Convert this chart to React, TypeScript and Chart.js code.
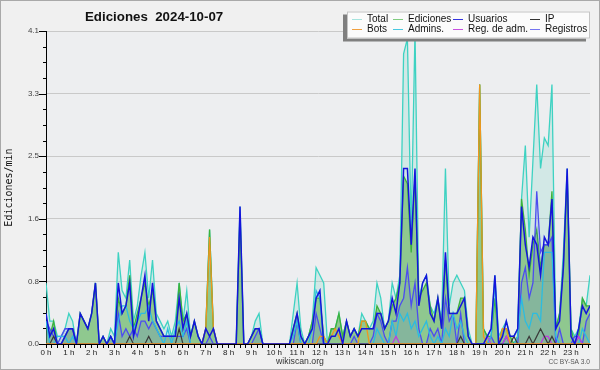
import React, { useEffect, useRef } from 'react';
import { Chart, registerables } from 'chart.js';

Chart.register(...registerables);

// ---- data (10-minute slots, 0:00 .. 23:50, edits per minute) ----
const hourLabels = ['0 h', '1 h', '2 h', '3 h', '4 h', '5 h', '6 h', '7 h', '8 h', '9 h', '10 h', '11 h',
  '12 h', '13 h', '14 h', '15 h', '16 h', '17 h', '18 h', '19 h', '20 h', '21 h', '22 h', '23 h'];
const yTickLabels = ['0.0', '0.8', '1.6', '2.5', '3.3', '4.1'];
const Y_MAX = 4.1;
const SLOTS_PER_HOUR = 6;

const total = [
  0.8, 0.3, 0.3, 0.1, 0.1, 0.2, 0.4, 0.3, 0.0, 0.4, 0.3, 0.2,
  0.4, 0.8, 0.0, 0.1, 0.0, 0.2, 0.1, 1.2, 0.7, 0.6, 1.1, 0.3,
  0.5, 0.9, 1.2, 0.6, 1.1, 0.4, 0.3, 0.2, 0.3, 0.1, 0.3, 0.8,
  0.3, 0.7, 0.1, 0.3, 0.1, 0.0, 0.2, 1.5, 0.2, 0.0, 0.0, 0.0,
  0.0, 0.0, 0.0, 1.8, 0.0, 0.0, 0.1, 0.3, 0.4, 0.0, 0.0, 0.0,
  0.0, 0.0, 0.0, 0.0, 0.0, 0.4, 0.8, 0.2, 0.0, 0.1, 0.3, 1.0,
  0.9, 0.8, 0.0, 0.2, 0.2, 0.4, 0.1, 0.3, 0.1, 0.2, 0.1, 0.4,
  0.3, 0.2, 0.3, 0.8, 0.6, 0.2, 0.3, 0.8, 0.6, 0.9, 3.8, 4.0,
  1.5, 4.1, 0.6, 0.8, 0.9, 0.5, 0.4, 0.6, 0.3, 2.3, 0.5, 0.8,
  0.9, 0.8, 0.7, 0.2, 0.0, 0.0, 3.4, 0.2, 0.1, 0.2, 0.9, 0.1,
  0.2, 0.3, 0.1, 0.1, 0.2, 1.9, 2.6, 1.4, 2.4, 3.4, 2.3, 2.7,
  2.6, 3.4, 0.2, 0.4, 1.2, 2.3, 0.2, 0.1, 0.2, 0.6, 0.5, 0.9,
];
const ediciones = [
  0.3, 0.1, 0.3, 0.0, 0.0, 0.1, 0.2, 0.2, 0.0, 0.4, 0.3, 0.2,
  0.4, 0.8, 0.0, 0.1, 0.0, 0.1, 0.0, 0.6, 0.4, 0.5, 0.9, 0.2,
  0.4, 0.6, 0.8, 0.5, 0.7, 0.3, 0.2, 0.1, 0.1, 0.1, 0.1, 0.8,
  0.3, 0.4, 0.1, 0.3, 0.1, 0.0, 0.2, 1.5, 0.2, 0.0, 0.0, 0.0,
  0.0, 0.0, 0.0, 1.7, 0.0, 0.0, 0.1, 0.2, 0.2, 0.0, 0.0, 0.0,
  0.0, 0.0, 0.0, 0.0, 0.0, 0.2, 0.4, 0.1, 0.0, 0.1, 0.3, 0.6,
  0.6, 0.1, 0.0, 0.2, 0.2, 0.4, 0.1, 0.3, 0.1, 0.2, 0.1, 0.3,
  0.3, 0.2, 0.2, 0.5, 0.4, 0.2, 0.3, 0.5, 0.6, 0.8, 2.2, 2.1,
  1.2, 2.2, 0.6, 0.7, 0.8, 0.5, 0.3, 0.6, 0.2, 1.1, 0.4, 0.4,
  0.4, 0.6, 0.6, 0.1, 0.0, 0.0, 3.4, 0.2, 0.1, 0.1, 0.6, 0.0,
  0.2, 0.2, 0.1, 0.0, 0.1, 1.9, 1.5, 0.9, 1.3, 1.5, 1.0, 1.3,
  1.3, 2.0, 0.2, 0.4, 1.0, 2.2, 0.2, 0.0, 0.1, 0.6, 0.5, 0.5,
];
const usuarios = [
  0.4, 0.1, 0.2, 0.0, 0.0, 0.1, 0.2, 0.2, 0.0, 0.4, 0.3, 0.2,
  0.4, 0.8, 0.0, 0.1, 0.0, 0.1, 0.0, 0.8, 0.4, 0.5, 0.8, 0.1,
  0.3, 0.6, 0.9, 0.3, 0.8, 0.3, 0.2, 0.1, 0.1, 0.1, 0.1, 0.6,
  0.2, 0.4, 0.1, 0.3, 0.1, 0.0, 0.2, 0.1, 0.2, 0.0, 0.0, 0.0,
  0.0, 0.0, 0.0, 1.8, 0.0, 0.0, 0.1, 0.2, 0.2, 0.0, 0.0, 0.0,
  0.0, 0.0, 0.0, 0.0, 0.0, 0.2, 0.4, 0.1, 0.0, 0.1, 0.2, 0.6,
  0.7, 0.0, 0.0, 0.1, 0.1, 0.2, 0.0, 0.3, 0.1, 0.2, 0.1, 0.2,
  0.2, 0.2, 0.2, 0.4, 0.4, 0.2, 0.3, 0.6, 0.4, 0.8, 2.3, 2.3,
  1.3, 2.3, 0.5, 0.8, 0.9, 0.4, 0.3, 0.6, 0.2, 1.2, 0.4, 0.4,
  0.4, 0.5, 0.6, 0.1, 0.0, 0.0, 0.0, 0.0, 0.1, 0.2, 0.9, 0.0,
  0.1, 0.3, 0.1, 0.1, 0.2, 1.8, 1.3, 1.0, 1.4, 1.3, 0.9, 1.4,
  1.3, 1.9, 0.2, 0.3, 1.0, 2.3, 0.1, 0.0, 0.2, 0.5, 0.4, 0.5,
];
const ip = [
  0.0, 0.0, 0.1, 0.0, 0.0, 0.0, 0.0, 0.0, 0.0, 0.0, 0.0, 0.0,
  0.0, 0.0, 0.0, 0.0, 0.0, 0.0, 0.0, 0.0, 0.0, 0.0, 0.1, 0.0,
  0.0, 0.0, 0.0, 0.1, 0.0, 0.0, 0.0, 0.0, 0.0, 0.0, 0.0, 0.2,
  0.0, 0.0, 0.0, 0.0, 0.0, 0.0, 0.0, 0.0, 0.0, 0.0, 0.0, 0.0,
  0.0, 0.0, 0.0, 0.0, 0.0, 0.0, 0.0, 0.0, 0.0, 0.0, 0.0, 0.0,
  0.0, 0.0, 0.0, 0.0, 0.0, 0.0, 0.0, 0.0, 0.0, 0.0, 0.0, 0.0,
  0.0, 0.0, 0.0, 0.0, 0.0, 0.0, 0.0, 0.0, 0.0, 0.0, 0.0, 0.0,
  0.0, 0.0, 0.0, 0.0, 0.0, 0.0, 0.0, 0.0, 0.0, 0.0, 0.0, 0.0,
  0.0, 0.0, 0.0, 0.0, 0.0, 0.0, 0.0, 0.0, 0.0, 0.0, 0.0, 0.0,
  0.0, 0.1, 0.0, 0.0, 0.0, 0.0, 0.0, 0.0, 0.0, 0.0, 0.0, 0.0,
  0.0, 0.0, 0.0, 0.1, 0.0, 0.0, 0.0, 0.1, 0.0, 0.1, 0.2, 0.1,
  0.0, 0.1, 0.0, 0.0, 0.0, 0.0, 0.0, 0.0, 0.0, 0.0, 0.0, 0.0,
];
const bots = [
  0.0, 0.0, 0.0, 0.0, 0.0, 0.0, 0.0, 0.0, 0.0, 0.0, 0.0, 0.0,
  0.0, 0.0, 0.0, 0.0, 0.0, 0.0, 0.0, 0.0, 0.0, 0.0, 0.0, 0.0,
  0.0, 0.0, 0.0, 0.0, 0.0, 0.0, 0.0, 0.0, 0.0, 0.0, 0.0, 0.0,
  0.0, 0.0, 0.0, 0.0, 0.0, 0.0, 0.2, 1.4, 0.2, 0.0, 0.0, 0.0,
  0.0, 0.0, 0.0, 0.0, 0.0, 0.0, 0.0, 0.0, 0.0, 0.0, 0.0, 0.0,
  0.0, 0.0, 0.0, 0.0, 0.0, 0.0, 0.0, 0.0, 0.0, 0.0, 0.0, 0.0,
  0.1, 0.1, 0.0, 0.1, 0.2, 0.1, 0.0, 0.0, 0.0, 0.0, 0.0, 0.3,
  0.3, 0.0, 0.0, 0.0, 0.0, 0.0, 0.0, 0.0, 0.0, 0.0, 0.0, 0.0,
  0.0, 0.0, 0.0, 0.0, 0.0, 0.0, 0.0, 0.0, 0.0, 0.0, 0.0, 0.0,
  0.0, 0.0, 0.0, 0.0, 0.0, 0.0, 3.4, 0.1, 0.0, 0.0, 0.0, 0.0,
  0.2, 0.2, 0.0, 0.0, 0.0, 0.0, 0.0, 0.0, 0.0, 0.0, 0.0, 0.0,
  0.0, 0.0, 0.0, 0.0, 0.0, 0.0, 0.0, 0.0, 0.0, 0.0, 0.0, 0.0,
];
const admins = [
  0.3, 0.0, 0.0, 0.1, 0.1, 0.1, 0.0, 0.1, 0.0, 0.0, 0.0, 0.0,
  0.0, 0.0, 0.0, 0.0, 0.0, 0.1, 0.0, 0.3, 0.5, 0.5, 0.3, 0.2,
  0.3, 0.4, 0.4, 0.5, 0.3, 0.2, 0.1, 0.0, 0.2, 0.0, 0.2, 0.3,
  0.1, 0.3, 0.0, 0.0, 0.0, 0.0, 0.0, 0.0, 0.0, 0.0, 0.0, 0.0,
  0.0, 0.0, 0.0, 0.0, 0.0, 0.0, 0.0, 0.0, 0.0, 0.0, 0.0, 0.0,
  0.0, 0.0, 0.0, 0.0, 0.0, 0.1, 0.3, 0.0, 0.0, 0.0, 0.2, 0.7,
  0.6, 0.0, 0.0, 0.0, 0.0, 0.0, 0.0, 0.0, 0.0, 0.0, 0.0, 0.0,
  0.0, 0.0, 0.0, 0.2, 0.1, 0.0, 0.0, 0.3, 0.1, 0.4, 0.3, 0.4,
  0.2, 0.3, 0.1, 0.2, 0.3, 0.1, 0.0, 0.1, 0.0, 0.2, 0.1, 0.4,
  0.2, 0.3, 0.1, 0.0, 0.0, 0.0, 0.0, 0.0, 0.0, 0.1, 0.8, 0.0,
  0.0, 0.0, 0.0, 0.0, 0.1, 0.6, 0.3, 0.2, 0.4, 0.4, 0.3, 1.2,
  1.2, 1.2, 0.1, 0.0, 0.0, 0.0, 0.0, 0.0, 0.0, 0.2, 0.1, 0.0,
];
const regAdm = [
  0.0, 0.0, 0.0, 0.0, 0.0, 0.0, 0.0, 0.0, 0.0, 0.0, 0.0, 0.0,
  0.0, 0.0, 0.0, 0.0, 0.0, 0.0, 0.0, 0.0, 0.0, 0.0, 0.0, 0.0,
  0.0, 0.0, 0.0, 0.0, 0.0, 0.0, 0.0, 0.0, 0.0, 0.0, 0.0, 0.0,
  0.0, 0.0, 0.0, 0.0, 0.0, 0.0, 0.0, 0.0, 0.0, 0.0, 0.0, 0.0,
  0.0, 0.0, 0.0, 0.0, 0.0, 0.0, 0.0, 0.0, 0.0, 0.0, 0.0, 0.0,
  0.0, 0.0, 0.0, 0.0, 0.0, 0.0, 0.0, 0.0, 0.0, 0.0, 0.0, 0.0,
  0.0, 0.0, 0.0, 0.0, 0.0, 0.0, 0.0, 0.0, 0.0, 0.0, 0.0, 0.0,
  0.0, 0.0, 0.0, 0.0, 0.0, 0.0, 0.0, 0.0, 0.1, 0.0, 0.0, 0.0,
  0.0, 0.0, 0.0, 0.0, 0.0, 0.0, 0.0, 0.0, 0.0, 0.0, 0.0, 0.0,
  0.0, 0.0, 0.0, 0.0, 0.0, 0.0, 0.0, 0.0, 0.1, 0.0, 0.0, 0.0,
  0.0, 0.1, 0.0, 0.0, 0.0, 0.0, 0.0, 0.0, 0.0, 0.0, 0.0, 0.1,
  0.1, 0.0, 0.0, 0.0, 0.0, 0.0, 0.0, 0.0, 0.1, 0.0, 0.0, 0.0,
];
const registros = [
  0.3, 0.2, 0.1, 0.0, 0.1, 0.2, 0.2, 0.2, 0.0, 0.0, 0.0, 0.0,
  0.0, 0.0, 0.0, 0.0, 0.0, 0.1, 0.0, 0.4, 0.1, 0.2, 0.1, 0.2,
  0.1, 0.3, 0.3, 0.2, 0.3, 0.2, 0.1, 0.1, 0.1, 0.1, 0.1, 0.1,
  0.1, 0.2, 0.0, 0.0, 0.0, 0.0, 0.0, 0.1, 0.0, 0.0, 0.0, 0.0,
  0.0, 0.0, 0.0, 0.0, 0.0, 0.0, 0.0, 0.1, 0.2, 0.0, 0.0, 0.0,
  0.0, 0.0, 0.0, 0.0, 0.0, 0.0, 0.3, 0.0, 0.0, 0.0, 0.0, 0.4,
  0.2, 0.0, 0.0, 0.0, 0.0, 0.0, 0.0, 0.0, 0.0, 0.1, 0.0, 0.0,
  0.0, 0.0, 0.1, 0.4, 0.3, 0.1, 0.0, 0.3, 0.3, 0.5, 0.6, 1.0,
  0.5, 0.8, 0.2, 0.0, 0.0, 0.2, 0.1, 0.2, 0.0, 0.6, 0.3, 0.4,
  0.0, 0.4, 0.0, 0.0, 0.0, 0.0, 0.0, 0.0, 0.0, 0.1, 0.0, 0.0,
  0.0, 0.1, 0.0, 0.0, 0.0, 0.8, 1.0, 0.6, 0.8, 2.0, 1.2, 1.3,
  1.3, 1.4, 0.0, 0.2, 0.0, 0.0, 0.0, 0.1, 0.1, 0.0, 0.3, 0.4,
];

const TITLE = 'Ediciones  2024-10-07';
const Y_TITLE = 'Ediciones/min';

type Series = { label: string; data: number[]; line: string; swatch: string; fill?: string; width: number; order: number };
const series: Series[] = [
  { label: 'Total', data: total, line: '#3ed2c2', swatch: '#a6e4de', fill: 'rgba(70,205,180,0.16)', width: 1.3, order: 9 },
  { label: 'Ediciones', data: ediciones, line: '#3cb23c', swatch: '#80cc80', fill: 'rgba(75,167,55,0.5)', width: 1.3, order: 8 },
  { label: 'Usuarios', data: usuarios, line: '#1414dc', swatch: '#3434e0', width: 1.5, order: 1 },
  { label: 'IP', data: ip, line: '#3a3a3a', swatch: '#333333', width: 1.2, order: 4 },
  { label: 'Bots', data: bots, line: '#f0961e', swatch: '#f0a040', width: 1.3, order: 3 },
  { label: 'Admins.', data: admins, line: '#2cbce0', swatch: '#48c8e0', width: 1.3, order: 6 },
  { label: 'Reg. de adm.', data: regAdm, line: '#c03ce0', swatch: '#c850e0', width: 1.2, order: 5 },
  { label: 'Registros', data: registros, line: '#4c4cf0', swatch: '#7474f0', fill: 'rgba(80,80,240,0.14)', width: 1.3, order: 7 },
];

const decorPlugin = {
  id: 'decor',
  beforeDraw(chart: any) {
    const { ctx, chartArea: a, width, height } = chart;
    ctx.save();
    ctx.fillStyle = '#f0f0f0';
    ctx.fillRect(0, 0, width, height);
    ctx.fillStyle = '#edeef0';
    ctx.fillRect(a.left, a.top, a.right - a.left, a.bottom - a.top);
    ctx.strokeStyle = '#a9a9a9';
    ctx.lineWidth = 1;
    ctx.strokeRect(0.5, 0.5, width - 1, height - 1);
    ctx.restore();
  },
  afterDraw(chart: any) {
    const { ctx, chartArea: a } = chart;
    const ys = chart.scales.y;
    ctx.save();
    // y tick marks (major long, minor short)
    ctx.strokeStyle = '#000';
    ctx.lineWidth = 1;
    ys.ticks.forEach((t: any, k: number) => {
      const py = Math.round(ys.getPixelForValue(t.value)) + 0.5;
      const len = k % 4 === 0 ? 7 : 3;
      ctx.beginPath();
      ctx.moveTo(a.left - len, py);
      ctx.lineTo(a.left, py);
      ctx.stroke();
    });
    // title
    ctx.fillStyle = '#111';
    ctx.font = 'bold 13.3px "Liberation Sans"';
    ctx.textAlign = 'left';
    ctx.textBaseline = 'middle';
    ctx.fillText(TITLE, 85, 17);
    // y title
    ctx.save();
    ctx.translate(9.5, (a.top + a.bottom) / 2);
    ctx.rotate(-Math.PI / 2);
    ctx.font = '10px "DejaVu Sans Mono"';
    ctx.textAlign = 'center';
    ctx.textBaseline = 'middle';
    ctx.fillStyle = '#111';
    ctx.fillText(Y_TITLE, 0, 0);
    ctx.restore();
    // footer
    ctx.font = '8.7px "Liberation Sans"';
    ctx.fillStyle = '#333';
    ctx.textAlign = 'center';
    ctx.fillText('wikiscan.org', 300, 361.5);
    ctx.font = '6.6px "Liberation Sans"';
    ctx.fillStyle = '#555';
    ctx.textAlign = 'right';
    ctx.fillText('CC BY-SA 3.0', 590, 362);
    // legend
    const bx = 347, by = 11.5, bw = 243, bh = 27;
    ctx.fillStyle = '#7f7f7f';
    ctx.fillRect(bx - 4, by + 3, bw, bh);
    ctx.fillStyle = '#fbfbfb';
    ctx.fillRect(bx, by, bw, bh);
    ctx.strokeStyle = '#c4c4c4';
    ctx.strokeRect(bx + 0.5, by + 0.5, bw - 1, bh - 1);
    const cols = [352, 393, 453, 530];
    const rows = [19.5, 29.5];
    ctx.font = '10px "Liberation Sans"';
    ctx.textAlign = 'left';
    ctx.textBaseline = 'middle';
    series.forEach((s, i) => {
      const cx = cols[i % 4];
      const cy = rows[Math.floor(i / 4)];
      ctx.strokeStyle = s.swatch;
      ctx.beginPath();
      ctx.moveTo(cx, cy);
      ctx.lineTo(cx + 10, cy);
      ctx.stroke();
      ctx.fillStyle = '#111';
      ctx.fillText(s.label, cx + 15, cy);
    });
    ctx.restore();
  },
};

export default function App() {
  const ref = useRef<HTMLCanvasElement | null>(null);
  useEffect(() => {
    document.body.style.margin = '0';
    const canvas = ref.current;
    if (!canvas) return;
    Chart.defaults.font.family = '"Liberation Sans", sans-serif';
    const lastIndex = total.length - 1;
    const minorStep = SLOTS_PER_HOUR / 4;
    const chart = new Chart(canvas, {
      type: 'line',
      data: {
        datasets: series.map((s) => ({
          label: s.label,
          data: s.data.map((v, i) => ({ x: i, y: v })),
          borderColor: s.line,
          borderWidth: s.width,
          backgroundColor: s.fill || 'rgba(0,0,0,0)',
          fill: s.fill ? 'origin' : false,
          pointRadius: 0,
          tension: 0,
          order: s.order,
        })),
      },
      options: {
        responsive: false,
        devicePixelRatio: 1,
        animation: false,
        events: [],
        layout: { padding: { top: 31, right: 10, left: 0, bottom: 0 } },
        plugins: { legend: { display: false }, tooltip: { enabled: false }, title: { display: false } },
        scales: {
          x: {
            type: 'linear',
            min: 0,
            max: lastIndex,
            afterBuildTicks: (s: any) => {
              const n = Math.floor(lastIndex / minorStep) + 1;
              s.ticks = Array.from({ length: n }, (_, k) => ({ value: k * minorStep }));
            },
            afterFit: (s: any) => { s.height = 26; },
            ticks: {
              autoSkip: false,
              maxRotation: 0,
              minRotation: 0,
              padding: 0,
              color: '#222',
              font: { size: 8 },
              callback: (_v: any, i: number) => (i % 4 === 0 ? hourLabels[i / 4] : ''),
            },
            grid: { drawOnChartArea: false, drawTicks: true, tickLength: 4, tickColor: '#000', color: '#000' },
            border: { display: true, color: '#000', width: 1 },
          },
          y: {
            type: 'linear',
            min: 0,
            max: Y_MAX,
            afterBuildTicks: (s: any) => {
              s.ticks = Array.from({ length: 21 }, (_, k) => ({ value: (k * Y_MAX) / 20 }));
            },
            afterFit: (s: any) => { s.width = 46; },
            ticks: {
              padding: 7,
              color: '#444',
              font: { size: 8 },
              callback: (_v: any, i: number) => (i % 4 === 0 ? yTickLabels[i / 4] : ''),
            },
            grid: {
              drawTicks: false,
              color: (c: any) => (c.index % 4 === 0 ? '#c9c9c9' : 'rgba(0,0,0,0)'),
              lineWidth: 1,
            },
            border: { display: true, color: '#000', width: 1 },
          },
        },
      },
      plugins: [decorPlugin],
    } as any);
    return () => chart.destroy();
  }, []);
  return (
    <div style={{ position: 'absolute', left: 0, top: 0, width: 600, height: 370 }}>
      <canvas ref={ref} width={600} height={370} style={{ display: 'block' }} />
    </div>
  );
}
